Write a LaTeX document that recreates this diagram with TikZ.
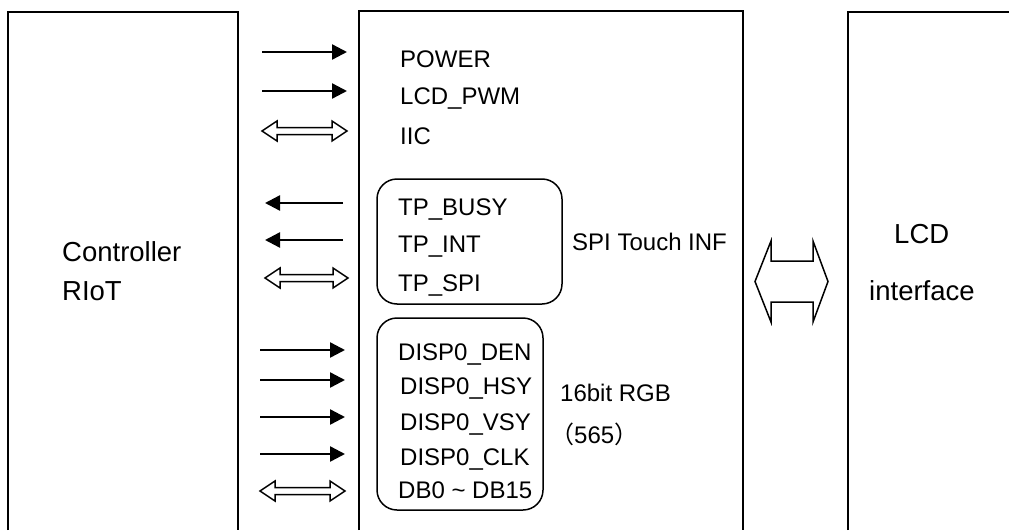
\documentclass[tikz,border=0pt]{standalone}
\usepackage{fontspec}
\setmainfont{Liberation Sans}
\newfontfamily\cjk{Noto Sans CJK SC}
\usetikzlibrary{arrows.meta}
\begin{document}
\begin{tikzpicture}[x=1pt,y=-1pt,
  box/.style={line width=1.5pt},
  sig/.style={anchor=base west,inner sep=0pt,font=\fontsize{24}{28}\selectfont},
  big/.style={anchor=base west,inner sep=0pt,font=\fontsize{27.5}{32}\selectfont},
  solid arrow/.style={line width=2.4pt,-{Triangle[length=15pt,width=15pt]}},
  hollow/.style={line width=1.5pt,line join=miter},
  group/.style={draw,line width=1.5pt,rounded corners=20pt}]
\useasboundingbox (0,0) rectangle (1009,530);
% blocks (open at the bottom)
\draw[box] (8,530) -- (8,12) -- (238,12) -- (238,530);
\draw[box] (359,530) -- (359,11) -- (743,11) -- (743,530);
\draw[box] (848,530) -- (848,12) -- (1009,12);
% group frames
\draw[group] (377,179) rectangle (562,304);
\draw[group] (377,318) rectangle (543,510);
% block labels
\node[big] (ctrl) at (62,261) {Controller};
\node[big] (riot) at (62,300) {RIoT};
\node[big] (lcd) at (894,243) {LCD};
\node[big] (intf) at (869,300) {interface};
% signal labels
\node[sig] (power) at (400,67) {POWER};
\node[sig] (pwm) at (400,104) {LCD\_PWM};
\node[sig] (iic) at (400,144) {IIC};
\node[sig] (busy) at (398,215) {TP\_BUSY};
\node[sig] (int) at (398,252) {TP\_INT};
\node[sig] (spi) at (398,291) {TP\_SPI};
\node[sig] (spitxt) at (572,250) {SPI Touch INF};
\node[sig] (den) at (398,360) {DISP0\_DEN};
\node[sig] (hsy) at (400,394) {DISP0\_HSY};
\node[sig] (vsy) at (400,430) {DISP0\_VSY};
\node[sig] (clk) at (400,465) {DISP0\_CLK};
\node[sig] (db) at (398,498) {DB0 \textasciitilde\ DB15};
\node[sig] (rgb) at (560,401) {16bit RGB};
\node[sig] (rgbn) at (550,443) {{\cjk （}565{\cjk ）}};
% arrow end points
\foreach \n/\y in {pw/52, pwm/91}{
  \coordinate (\n a) at (262,\y); \coordinate (\n b) at (347,\y);
  \draw[solid arrow] (\n a) -- (\n b);}
\foreach \n/\y in {busy/203, int/240}{
  \coordinate (\n a) at (343,\y); \coordinate (\n b) at (265,\y);
  \draw[solid arrow] (\n a) -- (\n b);}
\foreach \n/\y in {den/350, hsy/380, vsy/417, clk/454}{
  \coordinate (\n a) at (260,\y); \coordinate (\n b) at (345,\y);
  \draw[solid arrow] (\n a) -- (\n b);}
% hollow double arrows
\foreach \xa/\xb/\y in {262/347/131, 265/348/278, 260/345/491}{
  \draw[hollow] (\xa,\y) -- ++(15,10) -- ++(0,-6.5) -- (\xb-15,\y+3.5) -- ++(0,6.5) -- (\xb,\y)
    -- ++(-15,-10) -- ++(0,6.5) -- (\xa+15,\y-3.5) -- ++(0,-6.5) -- cycle;}
% big double arrow between middle block and LCD
\draw[hollow] (755,281.5) -- (771,241) -- (771,261) -- (813,261) -- (813,241) -- (828,281.5)
  -- (813,322) -- (813,302) -- (771,302) -- (771,322) -- cycle;
\end{tikzpicture}
\end{document}
